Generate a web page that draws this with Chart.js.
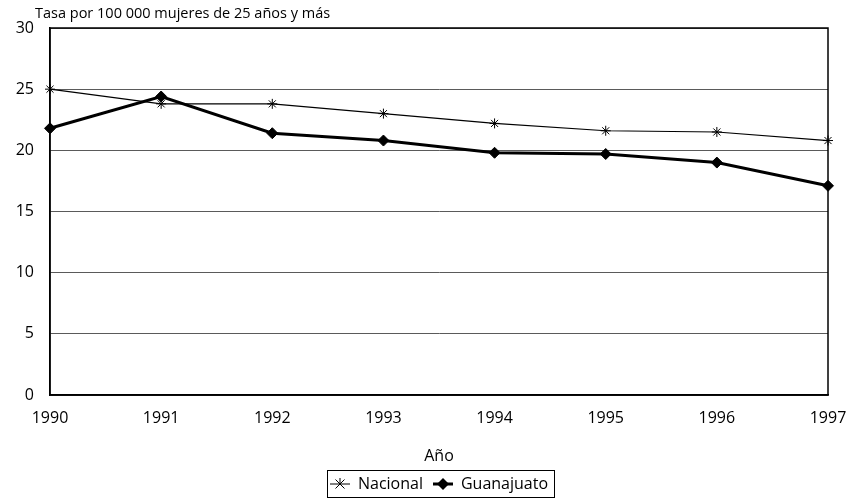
<!DOCTYPE html>
<html>
<head>
<meta charset="utf-8">
<script src="https://cdn.jsdelivr.net/npm/chart.js@4/dist/chart.umd.min.js"></script>
<style>
html,body{margin:0;padding:0;background:#fff;}
#wrap{width:853px;height:502px;position:relative;}
</style>
</head>
<body>
<div id="wrap"><canvas id="c" width="853" height="502"></canvas></div>
<script>
const years = ["1990","1991","1992","1993","1994","1995","1996","1997"];
const nacional = [25.0, 23.8, 23.8, 23.0, 22.2, 21.6, 21.5, 20.8];
const guanajuato = [21.8, 24.4, 21.4, 20.8, 19.8, 19.7, 19.0, 17.1];
const yTicks = [0, 5, 10, 15, 20, 25, 30];
const titleText = "Tasa por 100 000 mujeres de 25 años y más";
const xTitle = "Año";

const FONT = "'Open Sans', 'Noto Sans', sans-serif";

function legendIcon(kind) {
  const c = document.createElement('canvas');
  c.width = 20; c.height = 14;
  const g = c.getContext('2d');
  g.strokeStyle = '#000'; g.fillStyle = '#000';
  g.lineWidth = kind === 'star' ? 1 : 3;
  g.beginPath(); g.moveTo(0, 7); g.lineTo(20, 7); g.stroke();
  if (kind === 'star') {
    g.lineWidth = 1;
    g.beginPath();
    g.moveTo(10, 1); g.lineTo(10, 7);
    g.moveTo(5.5, 2.5); g.lineTo(14.5, 11.5);
    g.moveTo(14.5, 2.5); g.lineTo(5.5, 11.5);
    g.stroke();
  } else {
    g.beginPath();
    g.moveTo(10, 1); g.lineTo(16, 7); g.lineTo(10, 13); g.lineTo(4, 7); g.closePath();
    g.fill();
  }
  return c;
}
const icons = { Nacional: legendIcon('star'), Guanajuato: legendIcon('diamond') };

const framePlugin = {
  id: 'frame',
  afterLayout(chart) {
    const lg = chart.legend, a = chart.chartArea;
    if (lg) {
      const shift = (a.left + a.right) / 2 - (lg.left + lg.right) / 2;
      lg.left += shift; lg.right += shift;
    }
  },
  beforeDatasetsDraw(chart) {
    const {ctx, chartArea: a} = chart;
    ctx.save();
    ctx.strokeStyle = '#000';
    ctx.lineWidth = 1.5;
    ctx.strokeRect(a.left, a.top, a.right - a.left, a.bottom - a.top);
    ctx.restore();
  },
  afterDraw(chart) {
    const {ctx} = chart;
    ctx.save();
    ctx.fillStyle = '#000';
    ctx.font = "14.5px " + FONT;
    ctx.textBaseline = 'middle';
    ctx.textAlign = 'left';
    ctx.fillText(titleText, 35, 14);
    const lg = chart.legend;
    if (lg && lg.legendHitBoxes && lg.legendHitBoxes.length) {
      const hb = lg.legendHitBoxes;
      const l = Math.min(...hb.map(h => h.left)) - 3;
      const r = Math.max(...hb.map(h => h.left + h.width)) + 6;
      const t = Math.min(...hb.map(h => h.top)) - 6;
      const b = Math.max(...hb.map(h => h.top + h.height)) + 5;
      ctx.strokeStyle = '#000';
      ctx.lineWidth = 1;
      ctx.strokeRect(Math.round(l) + 0.5, Math.round(t) + 0.5, Math.round(r - l), Math.round(b - t));
    }
    ctx.restore();
  }
};

new Chart(document.getElementById('c'), {
  type: 'line',
  data: {
    labels: years,
    datasets: [
      {
        label: 'Nacional',
        data: nacional,
        borderColor: '#000',
        backgroundColor: '#000',
        borderWidth: 1.2,
        pointStyle: 'star',
        pointRadius: 5,
        pointBorderWidth: 1,
        pointBorderColor: '#000',
        tension: 0
      },
      {
        label: 'Guanajuato',
        data: guanajuato,
        borderColor: '#000',
        backgroundColor: '#000',
        borderWidth: 3,
        pointStyle: 'rectRot',
        pointRadius: 5.5,
        pointBorderWidth: 1,
        pointBorderColor: '#000',
        pointBackgroundColor: '#000',
        tension: 0
      }
    ]
  },
  options: {
    responsive: false,
    animation: false,
    layout: { padding: { top: 28, right: 25, left: 4, bottom: 0 } },
    plugins: {
      legend: {
        display: true,
        position: 'bottom',
        labels: {
          usePointStyle: true,
          pointStyleWidth: 20,
          boxHeight: 14,
          padding: 10,
          color: '#000',
          font: { family: FONT, size: 16 },
          generateLabels(chart) {
            const items = Chart.defaults.plugins.legend.labels.generateLabels(chart);
            items.forEach(it => { it.pointStyle = icons[it.text]; });
            return items;
          }
        }
      },
      title: { display: false },
      tooltip: { enabled: false }
    },
    scales: {
      x: {
        type: 'category',
        offset: false,
        afterFit(scale) { scale.height = 71; scale.paddingRight = 0; scale.paddingLeft = 0; },
        grid: { display: false, drawTicks: false },
        border: { display: true, color: '#000', width: 1.5 },
        ticks: { color: '#000', font: { family: FONT, size: 16 }, padding: 14, maxRotation: 0, autoSkip: false },
        title: { display: true, text: xTitle, color: '#000', font: { family: FONT, size: 16 }, padding: { top: 10, bottom: 0 } }
      },
      y: {
        min: 0,
        max: 30,
        afterBuildTicks(scale) { scale.ticks = yTicks.map(v => ({ value: v })); },
        afterFit(scale) { scale.width = 46; },
        grid: { color: '#5a5a5a', lineWidth: 1, drawTicks: false },
        border: { display: true, color: '#000', width: 1.5 },
        ticks: { color: '#000', font: { family: FONT, size: 16 }, padding: 16 }
      }
    }
  },
  plugins: [framePlugin]
});
</script>
</body>
</html>
